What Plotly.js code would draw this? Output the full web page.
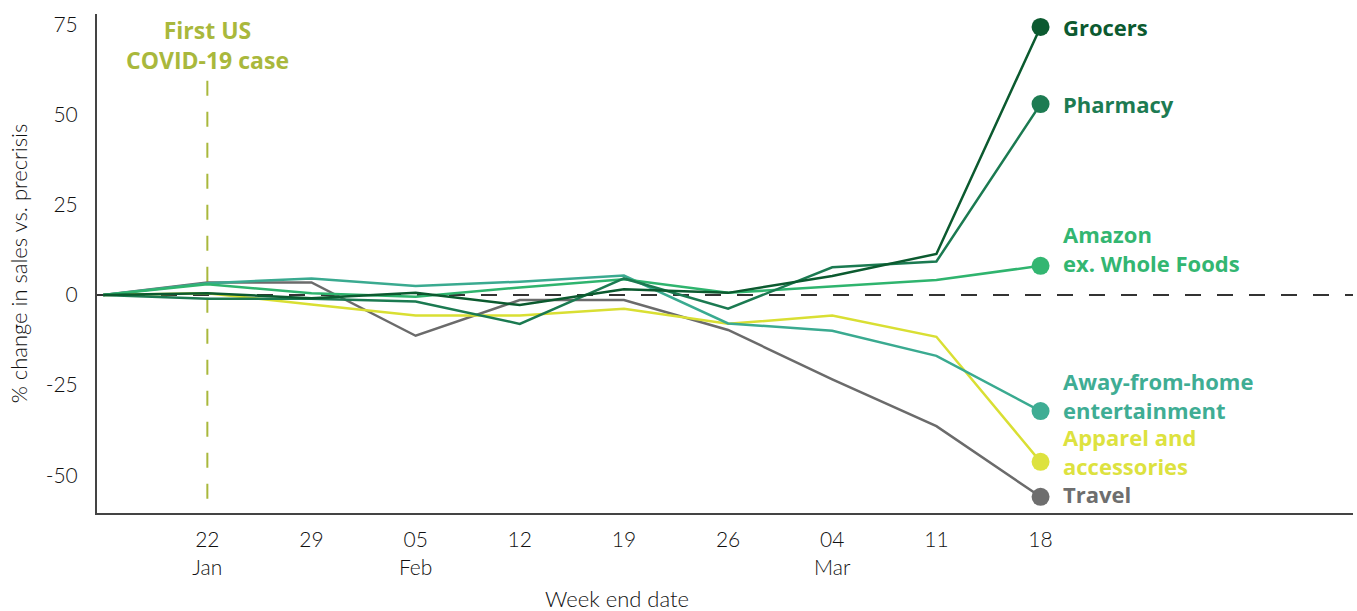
<!DOCTYPE html>
<html>
<head>
<meta charset="utf-8">
<script src="https://cdn.plot.ly/plotly-3.0.1.min.js"></script>
<style>
html,body{margin:0;padding:0;background:#fff;}
#chart{width:1357px;height:611px;}
</style>
</head>
<body>
<div id="chart"></div>
<script>
// Week end dates (2020)
const weeks = ['2020-01-15','2020-01-22','2020-01-29','2020-02-05','2020-02-12','2020-02-19','2020-02-26','2020-03-04','2020-03-11','2020-03-18'];
const tickDates = ['2020-01-22','2020-01-29','2020-02-05','2020-02-12','2020-02-19','2020-02-26','2020-03-04','2020-03-11','2020-03-18'];
const tickLabels = ['22<br>Jan','29','05<br>Feb','12','19','26','04<br>Mar','11','18'];

// % change in sales vs. precrisis
const travel   = [0, 3.5, 3.5, -11.3, -1.4, -1.4, -9.7, -23.4, -36.4, -56.0];
const apparel  = [0, 0.5, -2.6, -5.7, -5.7, -3.8, -8.0, -5.7, -11.6, -46.3];
const away     = [0, 3.3, 4.6, 2.5, 3.7, 5.4, -7.9, -9.9, -16.9, -32.2];
const amazon   = [0, 3.0, 0.5, -0.5, 2.1, 4.4, 0.6, 2.3, 4.2, 8.1];
const pharmacy = [0, -1.0, -1.0, -1.8, -8.0, 4.6, -3.8, 7.7, 9.3, 53.0];
const grocers  = [0, 0.5, -0.9, 0.6, -2.8, 1.6, 0.6, 5.3, 11.4, 74.4];

const seriesNames = ['Travel','Apparel and<br>accessories','Away-from-home<br>entertainment','Amazon<br>ex. Whole Foods','Pharmacy','Grocers'];
const seriesData = [travel, apparel, away, amazon, pharmacy, grocers];
const lineColors = ['#6b6b6b','#d9df33','#3aaa90','#2fb46e','#1b7a51','#0b5a2f'];
const markerColors = ['#6e6e6e','#dde23f','#3fad94','#33b671','#1d7b52','#0c5a30'];
const labelY = [-55.3, -43.3, -27.8, 12.8, 53.0, 74.4];

const firstCaseDate = '2020-01-22';
const firstCaseText = 'First US<br>COVID-19 case';

const traces = [];
const annotations = [];
const last = weeks.length - 1;
seriesData.forEach((vals, i) => {
  traces.push({
    x: weeks, y: vals, type: 'scatter', mode: 'lines',
    line: {color: lineColors[i], width: 2.5},
    hoverinfo: 'skip', showlegend: false
  });
  traces.push({
    x: [weeks[last]], y: [vals[last]], type: 'scatter', mode: 'markers',
    marker: {color: markerColors[i], size: 18},
    hoverinfo: 'skip', showlegend: false
  });
  annotations.push({
    x: weeks[last], y: labelY[i], xref: 'x', yref: 'y',
    text: '<b>' + seriesNames[i] + '</b>', showarrow: false,
    xanchor: 'left', yanchor: 'middle', xshift: 20, align: 'left',
    font: {family: 'Open Sans, sans-serif', size: 22, color: markerColors[i]}
  });
});

annotations.push({
  x: firstCaseDate, y: 1, xref: 'x', yref: 'paper',
  text: '<b>' + firstCaseText + '</b>', showarrow: false,
  xanchor: 'center', yanchor: 'top', yshift: 2, align: 'center',
  font: {family: 'Open Sans, sans-serif', size: 23, color: '#a9b83c'}
});
annotations.push({
  x: (617-97)/(1353-97), y: -0.172, xref: 'paper', yref: 'paper',
  text: 'Week end date', showarrow: false, xanchor: 'center', yanchor: 'middle',
  font: {family: 'Lato, sans-serif', size: 22, weight: 300, color: '#111'}
});

const layout = {
  width: 1357, height: 611,
  margin: {l: 97, r: 4, t: 14, b: 98},
  paper_bgcolor: '#fff', plot_bgcolor: '#fff',
  showlegend: false,
  xaxis: {
    type: 'date',
    range: ['2020-01-14 14:00', '2020-04-08'],
    tickvals: tickDates, ticktext: tickLabels,
    showgrid: false, zeroline: false,
    showline: true, linecolor: '#444', linewidth: 2,
    ticks: '', ticklabelstandoff: 7,
    tickfont: {family: 'Lato, sans-serif', size: 21, weight: 300, color: '#111'}
  },
  yaxis: {
    range: [-60.5, 78],
    tickvals: [-50, -25, 0, 25, 50, 75],
    ticktext: ['-50','-25','0','25','50','75'],
    showgrid: false, zeroline: false,
    showline: true, linecolor: '#444', linewidth: 2,
    ticks: '', ticklabelstandoff: 13,
    tickfont: {family: 'Lato, sans-serif', size: 21, weight: 300, color: '#111'},
    title: {text: '% change in sales vs. precrisis', standoff: 12,
            font: {family: 'Lato, sans-serif', size: 22, weight: 300, color: '#111'}}
  },
  shapes: [
    {type: 'line', xref: 'paper', yref: 'y', x0: 0, x1: 1, y0: 0, y1: 0,
     line: {color: '#333', width: 2, dash: '16px,16px'}, layer: 'below'},
    {type: 'line', xref: 'x', yref: 'y', x0: firstCaseDate, x1: firstCaseDate, y0: 59.5, y1: -60.5,
     line: {color: '#a9b83c', width: 2, dash: '15px,16px'}, layer: 'below'}
  ],
  annotations: annotations
};

Plotly.newPlot('chart', traces, layout, {displayModeBar: false, staticPlot: true});
</script>
</body>
</html>
